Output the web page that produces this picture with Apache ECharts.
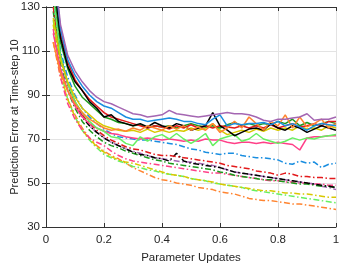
<!DOCTYPE html>
<html><head><meta charset="utf-8">
<script src="https://cdn.jsdelivr.net/npm/echarts@6/dist/echarts.min.js"></script>
<style>html,body{margin:0;padding:0;background:#fff}#c{width:345px;height:263px}</style>
</head><body><div id="c"></div>
<script>
const xs = [0.025,0.05,0.075,0.1,0.125,0.15,0.175,0.2,0.225,0.25,
  0.275,0.3,0.325,0.35,0.375,0.4,0.425,0.45,0.475,0.5,
  0.525,0.55,0.575,0.6,0.625,0.65,0.675,0.7,0.725,0.75,
  0.775,0.8,0.825,0.85,0.875,0.9,0.925,0.95,0.975,1.0];
const xTicks = ['0','0.2','0.4','0.6','0.8','1'];
const yTicks = ['30','50','70','90','110','130'];

// solid lines
const sBlue = [150,120,106,99,94,90,87,85,84,82, 80,79,79,78,78.5,79,79.5,79,78,78, 77,76.5,79,81,76,77,76.5,77,77,77.5, 76.5,78,76,77,75.5,74,76,77,76.5,76];
const sPurple = [152,122,108,101,96,92,89,87,86,84.5, 83,81.5,81,80,80.5,81,83,81.5,81,80.5, 80,80.5,81,81.5,82,81.5,81.5,81,80,78.5, 78,79,79,79.5,80,81.5,78.5,79,79,80];
const sBlack = [145,116,103,96,92,87,84,80,81,78, 77,76,77,75.5,77.5,76,75,77,76,74, 75,76,82,76,74,71.5,73,74.5,75,74, 77,75,74,76,75,73,74.5,76,75,74];
const sRed = [148,118,105,97,92,88,85,82,80,79, 78,77,76,75,76,75.5,74.5,76,75,76.5, 75,76,75,76,75.5,75,76,75,76,75, 76.5,75,76,77,75.5,76,77,76,78,78];
const sGreen = [140,114,102,94,89,86,83,80,79,77.5, 77,76,76.5,75,76,75.5,76,75,76,77, 76,75.5,76,75,76.5,77.5,76,77,76,77, 76.5,78,77,79,76,77.5,76,77,78,77];
const sOrange = [114,100,92,86,82,79,77,75,74,74.5, 73.5,75,74,76,75,74,76,74.5,76,74, 75.5,74,77,73,75,78,75,80,77,74, 78,76,81,75,80,75.5,77,79,75,77];
const sYellow = [125,106,96,89,84,81,78,76,75,74, 73.5,74,73,74.5,73,74,73,74,73.5,75, 74,75,77,74,72,73,74,73,74.5,73.5, 75,74,75,74,76,74.5,75,74,76,75];
const sLGreen = [135,108,95,87,82,78,75,73.5,71,70.5, 68,67,71,69,71,72,70,72.5,70,68, 70,72.5,67,70,71,72,69,70,72.5,70, 69,68,69,70.5,69.5,70.5,70,71,71.5,72];
const sPink = [118,102,92,85,80,77,75,73.5,72.5,72, 71,70.5,70,70.5,70,69.5,70,69.5,69,69.5, 69,70,69.5,69.5,68.5,68,68.5,68.5,68,68.5, 68,68.5,68,67.5,65,70.5,71,71,71.5,71.5];

// dash-dot lines
const dBlue = [135,110,98,90,84,80,77,74.5,72.5,71, 70.5,70,69.5,69.5,69,68.5,68,67.5,66.5,65.5, 65,64,63.5,63,63.5,63.5,62.5,62,61.5,61.5, 61,60.5,59,58.5,60,59,59.5,57,58.5,59];
const dRed = [130,107,95,87,81,77,74,71.5,69.5,68, 66.5,65.5,65,64,63,62.5,62.5,62,61.5,61, 60.5,60,59.5,59,58,57.5,57,56.5,55.5,55, 54.5,53.5,54.5,54,53,53,52.5,52.5,52,52];
const dBlack = [132,108,95,86,80,76,73,70.5,68.5,67, 65.5,64,63,62.5,61.5,61,60,63.5,60,59, 58.5,58,57.5,57,56,55,54.5,54,53.5,53, 52.5,52,51.5,51,50.5,50,49.5,49,48.5,48];
const dGreen = [128,104,92,84,78,74,71,68.5,67,66, 64.5,63.5,62.5,61.5,60.5,60,59,58.5,58,57.5, 57,56.5,56,55,54.5,53.5,53,52.5,52,51.5, 51.5,51,50.5,50,49.5,49.5,49,48.5,48.5,48];
const dPurple = [133,108,95,87,81,76,73,70.5,68.5,67, 65.5,64.5,63.5,62.5,61.5,61,60.5,60,59.5,59.5, 59,58.5,58,57,56,55,54.5,54,53.5,53, 52.5,52,51.5,51,50.5,50,49.5,48.5,48,47];
const dPink = [120,98,86,79,74,70.5,68.5,67,64.5,62.5, 61,60,59.5,59,58.5,58,57.5,57,56.5,56, 55.5,55,54.5,54.5,54,53.5,53,52.5,52,51.5, 51,51,50.5,50.5,50,50,49.5,49.5,49,49];
const dYellow = [122,100,88,80,74,70,66.5,64,62,60.5, 59.5,59,58,57,56,55,54,53.5,53,52, 51.5,51,50.5,49.5,49,48.5,48,47.5,47,46.5, 46.5,46,45.5,45.5,45,45,44.5,44,43.5,43.5];
const dLGreen = [124,101,88,80,74,69.5,66,63,61.5,60, 59,57.5,57,56,55.5,54.5,54,53.5,53,52, 51.5,51,50,49.5,49,48.5,48,47,46.5,46, 45.5,45,44.5,44,43.5,43,42.5,42,41.5,41];
const dOrange = [114,98,88,81,75,70.5,67,64.5,62.5,61, 59,57,55.5,54,52.5,51.5,51,50,49.5,49, 48,47.5,47,46,45.5,45,44,43,42.5,42, 42,41.5,41,40.5,40.5,40,39.5,39,38.5,38];

const C = {blue:'#1a8ee0', purple:'#a466b2', black:'#000000', red:'#e31a1c', green:'#1c9a1c',
  orange:'#ff8430', yellow:'#d8c800', lgreen:'#66f060', pink:'#ff4088'};

const solid = [[sPink,C.pink],[sLGreen,C.lgreen],[sYellow,C.yellow],[sGreen,C.green],[sRed,C.red],[sBlack,C.black],[sOrange,C.orange],[sBlue,C.blue],[sPurple,C.purple]];
const dashed = [[dOrange,C.orange],[dLGreen,C.lgreen],[dYellow,C.yellow],[dPink,C.pink],[dPurple,C.purple],[dGreen,C.green],[dBlack,C.black],[dRed,C.red],[dBlue,C.blue]];

const series = [];
dashed.forEach(([v,c]) => series.push({type:'line', showSymbol:false, data: xs.map((x,i)=>[x,v[i]]),
  lineStyle:{color:c, width:1.5, type:[6,2.5,1.5,2.5]}, silent:true}));
solid.forEach(([v,c]) => series.push({type:'line', showSymbol:false, data: xs.map((x,i)=>[x,v[i]]),
  lineStyle:{color:c, width:1.5}, silent:true}));

const font = 'Liberation Sans, Arial, sans-serif';
const axisCol = '#333';
const chart = echarts.init(document.getElementById('c'), null, {renderer:'canvas'});
chart.setOption({
  animation:false,
  grid:{left:46, right:9, top:7, bottom:36, containLabel:false, outerBoundsMode:'none'},
  xAxis:[{type:'value', min:0, max:1, interval:0.2, position:'bottom',
    axisLine:{show:true, lineStyle:{color:axisCol, width:1}},
    axisTick:{inside:true, length:4, lineStyle:{color:axisCol}},
    axisLabel:{margin:7, fontSize:11.5, fontFamily:font, color:'#262626', formatter:(v)=>xTicks[Math.round(v/0.2)]},
    splitLine:{show:true, lineStyle:{color:'#e3e3e3', width:1}},
    name:'Parameter Updates', nameLocation:'middle', nameGap:25, nameMoveOverlap:false,
    nameTextStyle:{fontSize:11.5, fontFamily:font, color:'#262626'}},
   {type:'value', min:0, max:1, interval:0.2, position:'top',
    axisLine:{show:true, lineStyle:{color:axisCol, width:1}},
    axisTick:{inside:true, length:4, lineStyle:{color:axisCol}},
    axisLabel:{show:false}, splitLine:{show:false}}],
  yAxis:[{type:'value', min:30, max:130, interval:20, position:'left',
    axisLine:{show:true, lineStyle:{color:axisCol, width:1}},
    axisTick:{inside:true, length:4, lineStyle:{color:axisCol}},
    axisLabel:{margin:6, fontSize:11.5, fontFamily:font, color:'#262626', formatter:(v)=>yTicks[Math.round((v-30)/20)]},
    splitLine:{show:true, lineStyle:{color:'#e3e3e3', width:1}},
    name:'Prediction Error at Time-step 10', nameLocation:'middle', nameGap:26, nameRotate:90, nameMoveOverlap:false,
    nameTextStyle:{fontSize:11, fontFamily:font, color:'#262626'}},
   {type:'value', min:30, max:130, interval:20, position:'right',
    axisLine:{show:true, lineStyle:{color:axisCol, width:1}},
    axisTick:{inside:true, length:4, lineStyle:{color:axisCol}},
    axisLabel:{show:false}, splitLine:{show:false}}],
  series: series
});
</script></body></html>
